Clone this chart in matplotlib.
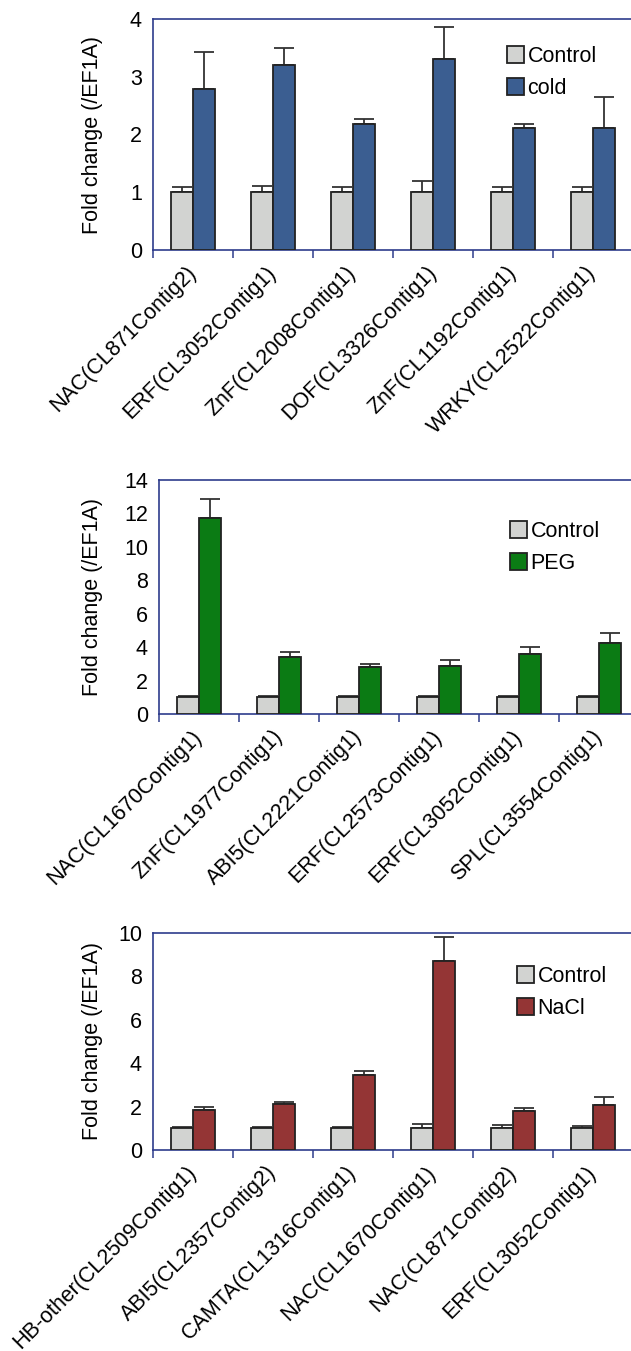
import matplotlib
matplotlib.use("Agg")
import matplotlib.pyplot as plt
import numpy as np
from matplotlib.patches import Patch

plt.rcParams['font.family'] = ['Liberation Sans', 'DejaVu Sans']

# ---- data -------------------------------------------------------------
cold_genes = ["NAC(CL871Contig2)", "ERF(CL3052Contig1)", "ZnF(CL2008Contig1)",
              "DOF(CL3326Contig1)", "ZnF(CL1192Contig1)", "WRKY(CL2522Contig1)"]
cold_ctrl = [1.0, 1.0, 1.0, 1.0, 1.0, 1.0]
cold_ctrl_err = [0.09, 0.10, 0.09, 0.20, 0.09, 0.09]
cold_vals = [2.79, 3.21, 2.18, 3.30, 2.11, 2.11]
cold_err = [0.64, 0.29, 0.08, 0.57, 0.08, 0.54]

peg_genes = ["NAC(CL1670Contig1)", "ZnF(CL1977Contig1)", "ABI5(CL2221Contig1)",
             "ERF(CL2573Contig1)", "ERF(CL3052Contig1)", "SPL(CL3554Contig1)"]
peg_ctrl = [1.0, 1.0, 1.0, 1.0, 1.0, 1.0]
peg_ctrl_err = [0.05, 0.05, 0.06, 0.05, 0.05, 0.07]
peg_vals = [11.70, 3.44, 2.80, 2.90, 3.57, 4.27]
peg_err = [1.17, 0.25, 0.20, 0.34, 0.42, 0.59]

nacl_genes = ["HB-other(CL2509Contig1)", "ABI5(CL2357Contig2)", "CAMTA(CL1316Contig1)",
              "NAC(CL1670Contig1)", "NAC(CL871Contig2)", "ERF(CL3052Contig1)"]
nacl_ctrl = [1.0, 1.0, 1.0, 1.0, 1.0, 1.0]
nacl_ctrl_err = [0.05, 0.05, 0.08, 0.22, 0.14, 0.12]
nacl_vals = [1.83, 2.14, 3.45, 8.71, 1.80, 2.09]
nacl_err = [0.15, 0.06, 0.17, 1.12, 0.14, 0.36]

# ---- style ------------------------------------------------------------
W, H = 631, 1351
CTRL_COLOR = "#D2D3D1"
EDGE = "#222222"
AXIS = "#2E3C8C"
FS = 15.5

fig = plt.figure(figsize=(W / 100, H / 100), dpi=100)


def panel(rect_px, genes, ctrl, ctrl_err, vals, err, color, label, ymax, ystep,
          leg_px):
    left, top, bottom = rect_px
    width = 480
    ax = fig.add_axes([left / W, (H - bottom) / H, width / W, (bottom - top) / H])
    n = len(genes)
    x = np.arange(n) + 0.5
    bw = 0.28
    ax.bar(x - bw / 2, ctrl, bw, color=CTRL_COLOR, edgecolor=EDGE, linewidth=1.3,
           zorder=3, label="Control")
    ax.bar(x + bw / 2, vals, bw, color=color, edgecolor=EDGE, linewidth=1.3,
           zorder=3, label=label)
    ax.errorbar(x - bw / 2, ctrl, yerr=[np.zeros(n), ctrl_err], fmt="none",
                ecolor="#333333", elinewidth=1.3, capsize=7, capthick=1.3, zorder=2)
    ax.errorbar(x + bw / 2, vals, yerr=[np.zeros(n), err], fmt="none",
                ecolor="#333333", elinewidth=1.3, capsize=7, capthick=1.3, zorder=2)

    ax.set_xlim(0, n)
    ax.set_ylim(0, ymax)
    ax.set_yticks(np.arange(0, ymax + 0.001, ystep))
    ax.set_yticklabels([f"{v:g}" for v in np.arange(0, ymax + 0.001, ystep)],
                       fontsize=FS)
    ax.tick_params(axis="y", length=0, pad=8)

    ax.set_xticks(np.arange(0, n + 1))
    ax.set_xticklabels([])
    ax.tick_params(axis="x", which="major", direction="out", length=6,
                   width=1.1, color=AXIS)
    ax.set_xticks(x, minor=True)
    ax.set_xticklabels(genes, minor=True, rotation=45, ha="right", va="center",
                       rotation_mode="anchor", fontsize=FS)
    ax.tick_params(axis="x", which="minor", length=0, pad=14)

    for s in ax.spines.values():
        s.set_color(AXIS)
        s.set_linewidth(1.2)

    ax.set_ylabel("Fold change (/EF1A)", fontsize=FS)
    ax.yaxis.set_label_coords((103 - left) / width, 0.5)

    handles = [Patch(facecolor=CTRL_COLOR, edgecolor=EDGE, linewidth=1.3),
               Patch(facecolor=color, edgecolor=EDGE, linewidth=1.3)]
    lx, ly = leg_px
    ax.legend(handles, ["Control", label], loc="upper left", frameon=False,
              fontsize=FS, handlelength=0.8, handleheight=0.8, handletextpad=0.15,
              labelspacing=0.5, borderpad=0, borderaxespad=0,
              bbox_to_anchor=((lx - left) / width, (bottom - ly) / (bottom - top)))
    return ax


panel((153, 19, 250), cold_genes, cold_ctrl, cold_ctrl_err, cold_vals, cold_err,
      "#3B5E91", "cold", 4, 1, (507, 46))
panel((159, 480, 714), peg_genes, peg_ctrl, peg_ctrl_err, peg_vals, peg_err,
      "#0B7B14", "PEG", 14, 2, (510, 521))
panel((153, 933, 1150), nacl_genes, nacl_ctrl, nacl_ctrl_err, nacl_vals, nacl_err,
      "#943535", "NaCl", 10, 2, (517, 966))

fig.savefig("out.png", dpi=100)
